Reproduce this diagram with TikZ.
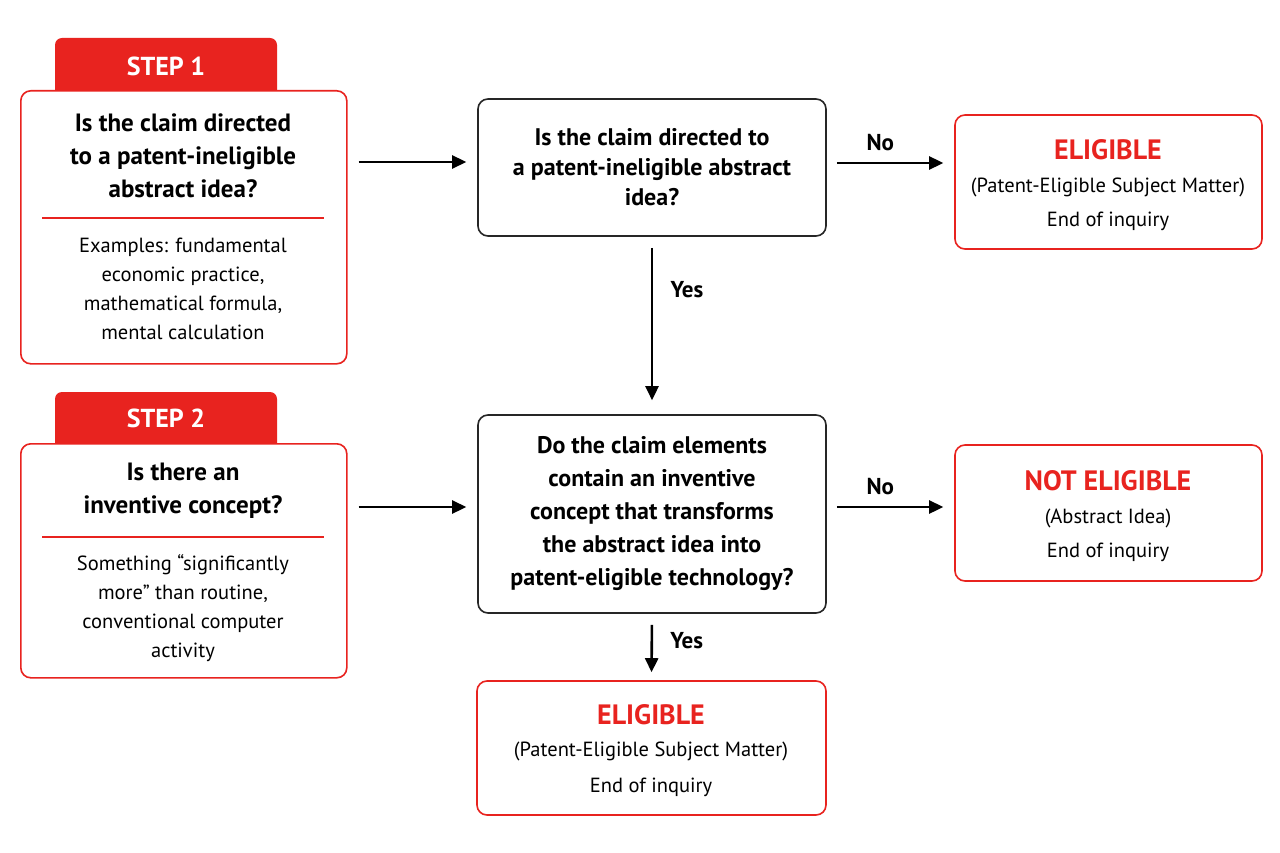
\documentclass[tikz,border=0pt]{standalone}
\usepackage{fontspec}
\setmainfont{PT Sans}
\usetikzlibrary{arrows.meta,calc}
\definecolor{myred}{HTML}{E8231F}
\begin{document}
\begin{tikzpicture}[x=1pt,y=-1pt,
  redbox/.style={draw=myred,line width=1.6pt,rounded corners=10pt,fill=white},
  blackbox/.style={draw=black!85,line width=1.6pt,rounded corners=10pt,fill=white},
  tab/.style={fill=myred,rounded corners=7pt},
  conn/.style={-{Triangle[length=14pt,width=13pt]},line width=2.6pt},
  ttl/.style={font=\fontsize{25}{33}\selectfont\bfseries,align=center},
  body/.style={font=\fontsize{20.5}{29.2}\selectfont,align=center},
  lab/.style={font=\fontsize{23}{28}\selectfont\bfseries},
  bigred/.style={font=\fontsize{28}{34}\selectfont\bfseries,text=myred}]
\useasboundingbox (0,0) rectangle (1280,853);
\fill[white] (0,0) rectangle (1280,853);
% step 1
\fill[tab] (55,38) rectangle (277,100);
\node[font=\fontsize{26}{30}\selectfont\bfseries,text=white] (t1) at (166,66) {STEP 1};
\node[redbox,minimum width=326pt,minimum height=273pt,anchor=north west] (s1) at (20,90) {};
\node[ttl] (s1t) at (183,156) {Is the claim directed\\to a patent-ineligible\\abstract idea?};
\draw[myred,line width=1.4pt] (42,218) -- (324,218);
\node[body] (s1b) at (183,289) {Examples: fundamental\\economic practice,\\mathematical formula,\\mental calculation};
% step 2
\fill[tab] (55,392) rectangle (277,453);
\node[font=\fontsize{26}{30}\selectfont\bfseries,text=white] (t2) at (166,418) {STEP 2};
\node[redbox,minimum width=326pt,minimum height=234pt,anchor=north west] (s2) at (20,443) {};
\node[ttl] (s2t) at (183,491) {Is there an\\inventive concept?};
\draw[myred,line width=1.4pt] (42,537) -- (324,537);
\node[body] (s2b) at (183,608) {Something “significantly\\more” than routine,\\conventional computer\\activity};
% questions
\node[blackbox,minimum width=348pt,minimum height=137pt] (q1) at (652,167.5) {};
\node[ttl,font=\fontsize{24}{30}\selectfont\bfseries] at (q1) {Is the claim directed to\\a patent-ineligible abstract\\idea?};
\node[blackbox,minimum width=348pt,minimum height=198pt] (q2) at (652,514) {};
\node[ttl,font=\fontsize{24}{33}\selectfont\bfseries] at (q2) {Do the claim elements\\contain an inventive\\concept that transforms\\the abstract idea into\\patent-eligible technology?};
% results
\node[redbox,minimum width=307pt,minimum height=134pt] (e1) at (1108.5,182) {};
\node[bigred] at (1108,150) {ELIGIBLE};
\node[body] at (1108,187) {(Patent-Eligible Subject Matter)};
\node[body] at (1108,221) {End of inquiry};
\node[redbox,minimum width=307pt,minimum height=136pt] (e2) at (1108.5,513) {};
\node[bigred] at (1108,481) {NOT ELIGIBLE};
\node[body] at (1108,518) {(Abstract Idea)};
\node[body] at (1108,552) {End of inquiry};
\node[redbox,minimum width=349pt,minimum height=134pt] (e3) at (651.5,748) {};
\node[bigred] at (651,715) {ELIGIBLE};
\node[body] at (651,751) {(Patent-Eligible Subject Matter)};
\node[body] at (651,787) {End of inquiry};
% connectors
\draw[conn,shorten <=11pt,shorten >=11pt] (s1.east |- 0,162) -- (q1.west |- 0,162);
\draw[conn,shorten <=11pt,shorten >=11pt] (s2.east |- 0,507) -- (q2.west |- 0,507);
\draw[conn,shorten <=10pt,shorten >=11pt] (q1.east |- 0,163) -- node[lab,above=8pt,pos=0.42]{No} (e1.west |- 0,163);
\draw[conn,shorten <=10pt,shorten >=11pt] (q2.east |- 0,507) -- node[lab,above=8pt,pos=0.42]{No} (e2.west |- 0,507);
\draw[conn,shorten <=11pt,shorten >=14pt] (q1.south) -- node[lab,right=14pt,pos=0.3]{Yes} (q2.north);
\draw[conn,shorten <=11pt,shorten >=8pt] (q2.south) -- node[lab,right=14pt,pos=0.4]{Yes} (e3.north);
\end{tikzpicture}
\end{document}
